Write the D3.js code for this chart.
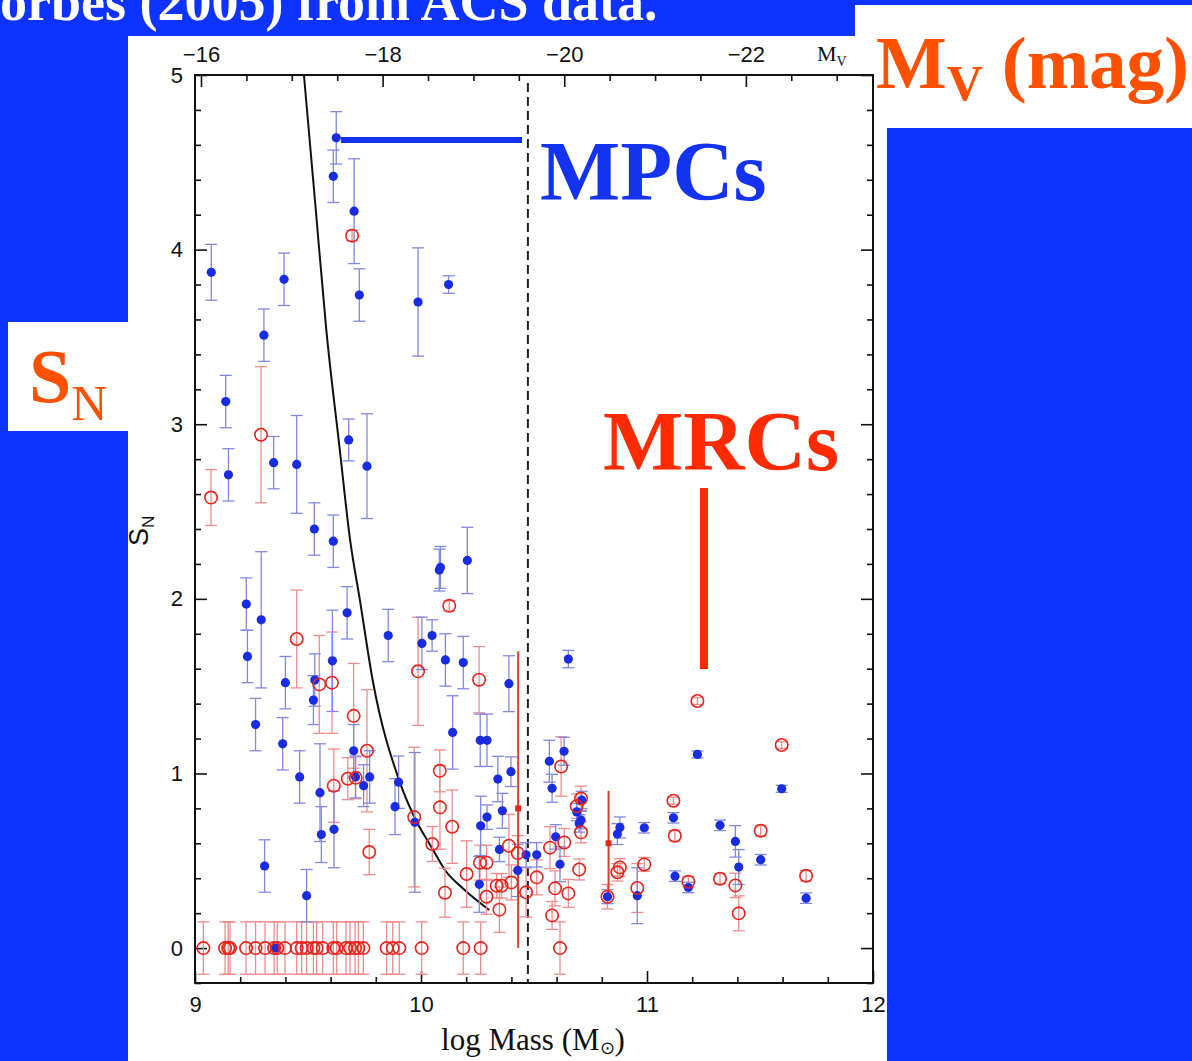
<!DOCTYPE html>
<html><head><meta charset="utf-8">
<script src="https://cdn.jsdelivr.net/npm/d3@7"></script>
<style>body{margin:0;background:#0f33ff;} svg{display:block}</style>
</head><body>
<svg id="c" width="1192" height="1061"></svg>
<script>
// ---------- DATA ----------
// MPCs (blue filled points): log Mass, S_N, error
const mpcLogM = [9.072, 9.394, 9.305, 9.625, 9.612, 9.704, 9.727, 9.987, 10.122, 9.136,
 9.148, 9.348, 9.45, 9.528, 9.612, 9.68, 9.761, 9.227, 9.232, 9.293,
 9.268, 9.40, 9.388, 9.463, 9.53, 9.524, 9.608, 9.673, 9.553, 9.559,
 9.615, 9.702, 9.71, 9.746, 9.773, 9.855, 9.901, 9.885, 9.973, 10.004,
 10.049, 10.081, 10.086, 10.108, 10.187, 10.205, 10.14, 10.262, 10.292, 10.34,
 10.398, 10.389, 10.264, 10.292, 10.36, 10.347, 10.465, 10.512, 10.428, 10.258,
 10.568, 10.58, 10.633, 10.596, 10.615, 10.652, 11.223, 11.596, 11.704, 11.503,
 11.323, 11.391, 11.406, 11.117, 11.124, 11.183, 10.988, 10.957, 10.825, 10.869,
 10.88, 10.70, 10.708, 10.711, 10.689, 9.358, 9.494, 9.308];
const mpcSN = [3.87, 3.83, 3.51, 4.64, 4.42, 4.22, 3.74, 3.70, 3.80, 3.13,
 2.71, 2.78, 2.77, 2.40, 2.33, 2.91, 2.76, 1.97, 1.67, 1.88,
 1.28, 1.52, 1.17, 0.98, 1.535, 1.42, 1.645, 1.92, 0.89, 0.65,
 0.68, 1.13, 0.98, 0.93, 0.98, 1.79, 0.95, 0.81, 0.72, 1.745,
 1.79, 2.165, 2.18, 1.65, 1.635, 2.22, 1.235, 1.19, 1.19, 0.968,
 1.01, 1.514, 0.70, 0.75, 0.786, 0.565, 0.534, 0.534, 0.445, 0.365,
 1.07, 0.915, 1.127, 0.637, 0.48, 1.655, 1.109, 0.912, 0.286, 0.506,
 0.703, 0.611, 0.464, 0.746, 0.412, 0.347, 0.689, 0.30, 0.294, 0.653,
 0.691, 0.714, 0.733, 0.848, 0.78, 0.0, 0.30, 0.47];
const mpcErr = [0.16, 0.15, 0.15, 0.15, 0.15, 0.30, 0.15, 0.31, 0.05, 0.15,
 0.15, 0.15, 0.28, 0.15, 0.15, 0.12, 0.30, 0.15, 0.15, 0.39,
 0.15, 0.15, 0.15, 0.15, 0.15, 0.14, 0.29, 0.15, 0.28, 0.16,
 0.22, 0.15, 0.12, 0.12, 0.15, 0.15, 0.15, 0.16, 0.40, 0.15,
 0.09, 0.12, 0.12, 0.15, 0.15, 0.19, 0.21, 0.15, 0.15, 0.13,
 0.085, 0.16, 0.17, 0.07, 0.10, 0.07, 0.07, 0.07, 0.15, 0.16,
 0.12, 0.08, 0.08, 0.07, 0.10, 0.05, 0.02, 0.02, 0.03, 0.03,
 0.03, 0.09, 0.10, 0.03, 0.03, 0.03, 0.03, 0.16, 0.04, 0.06,
 0.06, 0.05, 0.05, 0.05, 0.05, 0.0, 0.15, 0.15];

// MRCs (red open circles)
const mrcLogM = [9.695, 9.071, 9.292, 9.45, 9.55, 9.606, 9.614, 9.702, 9.676, 9.711,
 9.761, 9.771, 9.97, 9.987, 10.125, 10.083, 10.084, 10.138, 10.05, 10.106,
 10.202, 10.257, 10.261, 10.29, 10.335, 10.357, 10.40, 10.29, 10.347, 10.389,
 10.428, 10.465, 10.512, 10.571, 10.62, 10.634, 10.593, 10.58, 10.652, 10.615,
 10.689, 10.708, 10.708, 10.70, 10.869, 10.88, 10.825, 10.957, 10.988, 11.117,
 11.123, 11.183, 11.223, 11.323, 11.391, 11.406, 11.503, 11.596, 11.704];
const mrcSN = [4.08, 2.58, 2.94, 1.77, 1.51, 1.52, 0.93, 1.33, 0.97, 0.975,
 1.13, 0.55, 0.75, 1.585, 1.96, 1.015, 0.806, 0.695, 0.596, 0.317,
 0.424, 1.537, 0.489, 0.489, 0.357, 0.357, 0.376, 0.294, 0.22, 0.586,
 0.544, 0.319, 0.405, 0.575, 1.04, 0.605, 0.342, 0.187, 0.313, 0.0,
 0.813, 0.857, 0.663, 0.45, 0.434, 0.462, 0.294, 0.344, 0.479, 0.844,
 0.643, 0.38, 1.415, 0.397, 0.359, 0.199, 0.672, 1.163, 0.414];
const mrcErr = [0.03, 0.16, 0.39, 0.28, 0.28, 0.29, 0.21, 0.30, 0.12, 0.12,
 0.35, 0.13, 0.40, 0.31, 0.03, 0.12, 0.24, 0.21, 0.10, 0.14,
 0.19, 0.19, 0.10, 0.10, 0.07, 0.07, 0.10, 0.10, 0.13, 0.18,
 0.10, 0.14, 0.10, 0.12, 0.17, 0.08, 0.10, 0.08, 0.08, 0.15,
 0.07, 0.07, 0.06, 0.06, 0.05, 0.05, 0.07, 0.14, 0.04, 0.02,
 0.03, 0.03, 0.02, 0.03, 0.07, 0.10, 0.03, 0.02, 0.03];
// MRCs with S_N = 0
const mrcZeroLogM = [9.037, 9.133, 9.147, 9.155, 9.226, 9.268, 9.31, 9.35, 9.364, 9.398,
 9.45, 9.472, 9.494, 9.524, 9.538, 9.565, 9.612, 9.627, 9.668, 9.686,
 9.708, 9.723, 9.745, 9.848, 9.875, 9.904, 10.003, 10.187, 10.264];
const mrcZeroErr = 0.15;
// MRCs with large asymmetric errors (small squares)
const sqLogM = [10.43, 10.83];
const sqSN = [0.80, 0.60];
const sqLo = [0.0, 0.30];
const sqHi = [1.70, 0.90];

// model curve
const curveLogM = [9.482, 9.531, 9.581, 9.641, 9.686, 9.73, 9.786, 9.903, 9.97, 10.054, 10.106, 10.187, 10.302];
const curveSN   = [5.0, 4.28, 3.54, 2.85, 2.34, 1.99, 1.535, 0.962, 0.752, 0.561, 0.447, 0.34, 0.218];
const dividerLogM = 10.473;

// axes ticks
const xMajor = [9, 10, 11, 12];
const yMajor = [0, 1, 2, 3, 4, 5];
const mvMajor = [-16, -18, -20, -22];
const mvDomain = [-15.934, -23.40];

// ---------- DRAW ----------
const svg = d3.select("#c");
const W = 1192, H = 1061;
svg.append("rect").attr("width", W).attr("height", H).attr("fill", "#0f33ff");
svg.append("rect").attr("x", 128).attr("y", 36).attr("width", 759).attr("height", H - 36).attr("fill", "#fff");
svg.append("rect").attr("x", 855).attr("y", 5).attr("width", W - 855).attr("height", 123).attr("fill", "#fff");
svg.append("rect").attr("x", 8).attr("y", 322).attr("width", 120).attr("height", 109).attr("fill", "#fff");

svg.append("text").attr("x", 0).attr("y", 20)
  .attr("font-family", "Liberation Serif, Times New Roman, serif").attr("font-weight", "bold")
  .attr("font-size", 54).attr("fill", "#fff").text("orbes (2005) from ACS data.");

const L = 195, R = 873, T = 75, B = 983;
const x = d3.scaleLinear().domain([9, 12]).range([L, R]);
const y = d3.scaleLinear().domain([-0.2, 5]).range([B, T]);
const mv = d3.scaleLinear().domain(mvDomain).range([L, R]);

const tickFont = "Liberation Sans, Arial, sans-serif";
function styleAxis(g) {
  g.select(".domain").remove();
  g.attr("font-family", tickFont).attr("font-size", 22);
  g.selectAll("line").attr("stroke", "#111").attr("stroke-width", 1.6);
  g.selectAll("text").attr("fill", "#111");
}
const xMinor = d3.range(9, 12.001, 0.2).filter(v => Math.abs(v - Math.round(v)) > 1e-6);
const yMinor = d3.range(-0.2, 5.001, 0.2).filter(v => Math.abs(v - Math.round(v)) > 1e-6);
const mvMinor = d3.range(-16, -23.41, -0.5).filter(v => v % 2 !== 0);

svg.append("g").attr("transform", `translate(0,${B})`)
  .call(d3.axisBottom(x).tickValues(xMajor).tickSizeInner(-12).tickSizeOuter(0).tickPadding(13).tickFormat(d3.format("d"))).call(styleAxis);
svg.append("g").attr("transform", `translate(0,${B})`)
  .call(d3.axisBottom(x).tickValues(xMinor).tickSizeInner(-6).tickSizeOuter(0).tickFormat("")).call(styleAxis);
svg.append("g").attr("transform", `translate(${L},0)`)
  .call(d3.axisLeft(y).tickValues(yMajor).tickSizeInner(-12).tickSizeOuter(0).tickPadding(12).tickFormat(d3.format("d"))).call(styleAxis);
svg.append("g").attr("transform", `translate(${L},0)`)
  .call(d3.axisLeft(y).tickValues(yMinor).tickSizeInner(-6).tickSizeOuter(0).tickFormat("")).call(styleAxis);
svg.append("g").attr("transform", `translate(${R},0)`)
  .call(d3.axisRight(y).tickValues(yMajor).tickSizeInner(-12).tickSizeOuter(0).tickFormat("")).call(styleAxis);
svg.append("g").attr("transform", `translate(${R},0)`)
  .call(d3.axisRight(y).tickValues(yMinor).tickSizeInner(-6).tickSizeOuter(0).tickFormat("")).call(styleAxis);
svg.append("g").attr("transform", `translate(0,${T})`)
  .call(d3.axisTop(mv).tickValues(mvMajor).tickSizeInner(-12).tickSizeOuter(0).tickPadding(13)).call(styleAxis);
svg.append("g").attr("transform", `translate(0,${T})`)
  .call(d3.axisTop(mv).tickValues(mvMinor).tickSizeInner(-6).tickSizeOuter(0).tickFormat("")).call(styleAxis);

// frame
svg.append("rect").attr("x", L).attr("y", T).attr("width", R - L).attr("height", B - T)
  .attr("fill", "none").attr("stroke", "#111").attr("stroke-width", 2);

// divider
svg.append("line").attr("x1", x(dividerLogM)).attr("x2", x(dividerLogM)).attr("y1", T + 8).attr("y2", B)
  .attr("stroke", "#222").attr("stroke-width", 2).attr("stroke-dasharray", "9,5");

// curve
const curvePts = curveLogM.map((m, i) => [m, curveSN[i]]);
svg.append("path").datum(curvePts)
  .attr("d", d3.line().x(d => x(d[0])).y(d => y(d[1])).curve(d3.curveMonotoneX))
  .attr("fill", "none").attr("stroke", "#111").attr("stroke-width", 2);

// error bars
function errBars(data, color, width) {
  const g = svg.append("g").attr("stroke", color).attr("stroke-width", width).attr("fill", "none");
  data.filter(d => d.e > 0).forEach(d => {
    const cx = x(d.m), y1 = y(d.s - d.e), y2 = y(d.s + d.e);
    g.append("line").attr("x1", cx).attr("x2", cx).attr("y1", y1).attr("y2", y2);
    g.append("line").attr("x1", cx - 6).attr("x2", cx + 6).attr("y1", y1).attr("y2", y1);
    g.append("line").attr("x1", cx - 6).attr("x2", cx + 6).attr("y1", y2).attr("y2", y2);
  });
}
const mpc = mpcLogM.map((m, i) => ({ m, s: mpcSN[i], e: mpcErr[i] }));
const mrc = mrcLogM.map((m, i) => ({ m, s: mrcSN[i], e: mrcErr[i] }))
  .concat(mrcZeroLogM.map(m => ({ m, s: 0, e: mrcZeroErr })));

errBars(mrc, "#ef8c8c", 1.3);
errBars(mpc, "#8088e4", 1.3);

// square points with large errors
sqLogM.forEach((m, i) => {
  svg.append("line").attr("x1", x(m)).attr("x2", x(m)).attr("y1", y(sqLo[i])).attr("y2", y(sqHi[i]))
    .attr("stroke", "#d8402c").attr("stroke-width", 2);
  svg.append("rect").attr("x", x(m) - 3).attr("y", y(sqSN[i]) - 3).attr("width", 6).attr("height", 6)
    .attr("fill", "#e0281c");
});

svg.append("g").selectAll("circle").data(mpc).join("circle")
  .attr("cx", d => x(d.m)).attr("cy", d => y(d.s)).attr("r", 4.6).attr("fill", "#1a2ce2");
svg.append("g").selectAll("circle").data(mrc).join("circle")
  .attr("cx", d => x(d.m)).attr("cy", d => y(d.s)).attr("r", 6.2).attr("fill", "none")
  .attr("stroke", "#e6231c").attr("stroke-width", 1.6);

// axis titles
const xt = svg.append("text").attr("x", 533).attr("y", 1050).attr("text-anchor", "middle")
  .attr("font-family", "Liberation Serif, Times New Roman, serif").attr("font-size", 31).attr("fill", "#111");
xt.append("tspan").text("log Mass (M");
xt.append("tspan").attr("font-size", 18).attr("dy", 4).text("⊙");
xt.append("tspan").attr("dy", -4).text(")");

const yt = svg.append("text").attr("transform", "translate(148,546) rotate(-90)")
  .attr("font-family", tickFont).attr("font-size", 27).attr("fill", "#111");
yt.append("tspan").text("S");
yt.append("tspan").attr("font-size", 17).attr("dy", 6).text("N");

const mt = svg.append("text").attr("x", 817).attr("y", 61)
  .attr("font-family", "Liberation Serif, Times New Roman, serif").attr("font-size", 22).attr("fill", "#111");
mt.append("tspan").text("M");
mt.append("tspan").attr("font-size", 14).attr("dy", 5).text("V");

// annotations
const serif = "Liberation Serif, Times New Roman, serif";
svg.append("text").attr("x", 540).attr("y", 200).attr("font-family", serif).attr("font-weight", "bold")
  .attr("font-size", 85).attr("fill", "#1433f0").text("MPCs");
svg.append("line").attr("x1", 341).attr("x2", 522).attr("y1", 140).attr("y2", 140)
  .attr("stroke", "#1433f0").attr("stroke-width", 6);

svg.append("text").attr("x", 603).attr("y", 470).attr("font-family", serif).attr("font-weight", "bold")
  .attr("font-size", 85).attr("fill", "#ff2a00").text("MRCs");
svg.append("line").attr("x1", 704).attr("x2", 704).attr("y1", 488).attr("y2", 669)
  .attr("stroke", "#ff2a00").attr("stroke-width", 8);

const mvl = svg.append("text").attr("x", 876).attr("y", 88).attr("font-family", serif).attr("font-weight", "bold")
  .attr("font-size", 75).attr("fill", "#ff5000");
mvl.append("tspan").text("M");
mvl.append("tspan").attr("font-size", 50).attr("dy", 12).text("V");
mvl.append("tspan").attr("dy", -12).text(" (mag)");

const snl = svg.append("text").attr("x", 29).attr("y", 402).attr("font-family", serif).attr("font-weight", "bold")
  .attr("font-size", 76).attr("fill", "#ff5000");
snl.append("tspan").text("S");
snl.append("tspan").attr("font-size", 50).attr("font-weight", "normal").attr("dy", 18).text("N");
</script></body></html>
